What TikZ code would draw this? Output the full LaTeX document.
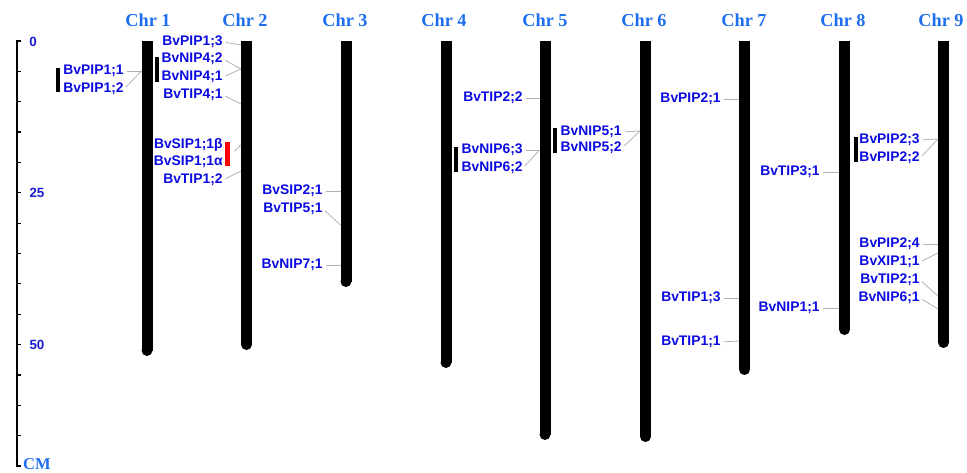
\documentclass[tikz,border=0pt]{standalone}
\usepackage{fontspec}
\newfontfamily\arialfont{Liberation Sans}
\newfontfamily\timesfont{Liberation Serif}
\definecolor{genecol}{RGB}{10,10,225}
\definecolor{chrcol}{RGB}{30,110,240}
\definecolor{scalecol}{RGB}{25,25,205}

\begin{document}
\begin{tikzpicture}[
  x=0.02cm,y=-0.02cm,
  gene/.style={anchor=east,inner sep=0pt,text=genecol,font=\arialfont\bfseries\fontsize{7.9}{8}\selectfont},
  chrname/.style={text=chrcol,inner sep=0pt,font=\timesfont\bfseries\fontsize{10.4}{11}\selectfont},
  scalenum/.style={text=scalecol,inner sep=0pt,font=\arialfont\bfseries\fontsize{7.6}{8}\selectfont},
  unitlabel/.style={text=chrcol,inner sep=0pt,font=\timesfont\bfseries\fontsize{9.4}{10}\selectfont},
  chrbar/.style={line width=0.22cm,black},
  link/.style={gray!60,line width=0.45pt,shorten <=1.5pt},
  grpbar/.style={line width=2.3pt,black},
  sipbar/.style={line width=2.4pt,red},
  axisline/.style={black,line width=0.9pt},
]
\useasboundingbox (0,0) rectangle (967,473);

% ---------- Scale ----------
\draw[axisline] (20.5,41) -- (17,41) -- (17,466) -- (20.5,466);
\foreach \k in {1,...,13} \draw[axisline,line width=0.7pt] (17,41+\k*30.36) -- ++(3.5,0);
\node[scalenum] (s0) at (33,42) {0};
\node[scalenum] (s25) at (37,193) {25};
\node[scalenum] (s50) at (37,345) {50};
\node[unitlabel] (cm) at (37,464) {CM};

% ---------- Chromosomes ----------
\node[chrname] (chr1) at (148,20) {Chr 1};
\node[chrname] (chr2) at (245,20) {Chr 2};
\node[chrname] (chr3) at (345,20) {Chr 3};
\node[chrname] (chr4) at (444,20) {Chr 4};
\node[chrname] (chr5) at (545,20) {Chr 5};
\node[chrname] (chr6) at (644,20) {Chr 6};
\node[chrname] (chr7) at (744,20) {Chr 7};
\node[chrname] (chr8) at (843,20) {Chr 8};
\node[chrname] (chr9) at (941,20) {Chr 9};

\draw[chrbar] (147,41) -- (147,350.5);   \fill (147,350.5) circle[radius=5.5];
\draw[chrbar] (246.5,41) -- (246.5,344.5); \fill (246.5,344.5) circle[radius=5.5];
\draw[chrbar] (346,41) -- (346,281.5);   \fill (346,281.5) circle[radius=5.5];
\draw[chrbar] (446,41) -- (446,362.5);   \fill (446,362.5) circle[radius=5.5];
\draw[chrbar] (545,41) -- (545,434.5);   \fill (545,434.5) circle[radius=5.5];
\draw[chrbar] (645.5,41) -- (645.5,436.5); \fill (645.5,436.5) circle[radius=5.5];
\draw[chrbar] (744.5,41) -- (744.5,369.5); \fill (744.5,369.5) circle[radius=5.5];
\draw[chrbar] (844.5,41) -- (844.5,329.5); \fill (844.5,329.5) circle[radius=5.5];
\draw[chrbar] (943.5,41) -- (943.5,342.5); \fill (943.5,342.5) circle[radius=5.5];

% left edges
\coordinate (C1) at (141.5,41);
\coordinate (C2) at (241,41);
\coordinate (C3) at (340.5,41);
\coordinate (C5) at (539.5,41);
\coordinate (C6) at (640,41);
\coordinate (C7) at (739,41);
\coordinate (C8) at (839,41);
\coordinate (C9) at (938,41);

% ---------- Chr 1 ----------
\draw[grpbar] (58,68) -- (58,92);
\node[gene] (pip11) at (124,71) {BvPIP1;1};
\node[gene] (pip12) at (124,89) {BvPIP1;2};
\draw[link] (pip11.east) -- (C1 |- pip11.east);
\draw[link] (pip12.east) -- (C1 |- pip11.east);

% ---------- Chr 2 ----------
\draw[grpbar] (157,57) -- (157,82);
\node[gene] (pip13) at (223,42) {BvPIP1;3};
\node[gene] (nip42) at (223,59) {BvNIP4;2};
\node[gene] (nip41) at (223,77) {BvNIP4;1};
\node[gene] (tip41) at (223,95) {BvTIP4;1};
\node[gene] (sip11b) at (223,145) {BvSIP1;1β};
\node[gene] (sip11a) at (223,162) {BvSIP1;1α};
\node[gene] (tip12) at (223,180) {BvTIP1;2};
\draw[sipbar] (227.5,142) -- (227.5,166);
\draw[link] (pip13.east) -- (C2 |- 0,45);
\draw[link] (nip42.east) -- (C2 |- 0,69);
\draw[link] (nip41.east) -- (C2 |- 0,69);
\draw[link] (tip41.east) -- (C2 |- 0,104);
\draw[link,shorten <=9pt] (sip11b.east) -- (C2 |- sip11b.east);
\draw[link,shorten <=9pt] (sip11a.east) -- (C2 |- sip11b.east);
\draw[link] (tip12.east) -- (C2 |- 0,171);

% ---------- Chr 3 ----------
\node[gene] (sip21) at (323,191) {BvSIP2;1};
\node[gene] (tip51) at (323,209) {BvTIP5;1};
\node[gene] (nip71) at (323,265) {BvNIP7;1};
\draw[link] (sip21.east) -- (C3 |- sip21.east);
\draw[link] (tip51.east) -- (C3 |- 0,225);
\draw[link] (nip71.east) -- (C3 |- nip71.east);

% ---------- Chr 5 ----------
\draw[grpbar] (456,147) -- (456,172);
\node[gene] (tip22) at (523,98) {BvTIP2;2};
\node[gene] (nip63) at (523,150) {BvNIP6;3};
\node[gene] (nip62) at (523,168) {BvNIP6;2};
\draw[link] (tip22.east) -- (C5 |- tip22.east);
\draw[link] (nip63.east) -- (C5 |- nip63.east);
\draw[link] (nip62.east) -- (C5 |- nip63.east);

% ---------- Chr 6 ----------
\draw[grpbar] (555,128) -- (555,153);
\node[gene] (nip51) at (622,132) {BvNIP5;1};
\node[gene] (nip52) at (622,148) {BvNIP5;2};
\draw[link] (nip51.east) -- (C6 |- 0,131);
\draw[link] (nip52.east) -- (C6 |- 0,131);

% ---------- Chr 7 ----------
\node[gene] (pip21) at (721,99) {BvPIP2;1};
\node[gene] (tip13) at (721,298) {BvTIP1;3};
\node[gene] (tip11) at (721,342) {BvTIP1;1};
\draw[link] (pip21.east) -- (C7 |- pip21.east);
\draw[link] (tip13.east) -- (C7 |- tip13.east);
\draw[link] (tip11.east) -- (C7 |- 0,341);

% ---------- Chr 8 ----------
\node[gene] (tip31) at (820,172) {BvTIP3;1};
\node[gene] (nip11) at (820,308) {BvNIP1;1};
\draw[link] (tip31.east) -- (C8 |- tip31.east);
\draw[link] (nip11.east) -- (C8 |- nip11.east);

% ---------- Chr 9 ----------
\draw[grpbar] (856,137) -- (856,162);
\node[gene] (pip23) at (920,140) {BvPIP2;3};
\node[gene] (pip22) at (920,158) {BvPIP2;2};
\node[gene] (pip24) at (920,244) {BvPIP2;4};
\node[gene] (xip11) at (920,262) {BvXIP1;1};
\node[gene] (tip21) at (920,280) {BvTIP2;1};
\node[gene] (nip61) at (920,298) {BvNIP6;1};
\draw[link] (pip23.east) -- (C9 |- 0,139);
\draw[link] (pip22.east) -- (C9 |- 0,139);
\draw[link] (pip24.east) -- (C9 |- pip24.east);
\draw[link] (xip11.east) -- (C9 |- 0,253);
\draw[link] (tip21.east) -- (C9 |- 0,296);
\draw[link] (nip61.east) -- (C9 |- 0,309);

\end{tikzpicture}
\end{document}
